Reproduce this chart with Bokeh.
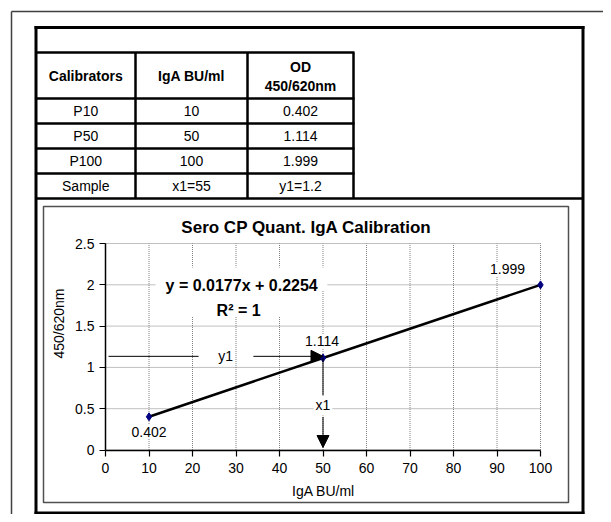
from math import pi
from bokeh.plotting import figure
from bokeh.models import Range1d, FixedTicker, Label, BoxAnnotation, Arrow, NormalHead
from bokeh.embed import file_html
from bokeh.resources import INLINE

# ---------------- data ----------------
calibrators = ["P10", "P50", "P100"]
iga_bu = [10, 50, 100]
od = [0.402, 1.114, 1.999]
sample_row = ["Sample", "x1=55", "y1=1.2"]
header = ["Calibrators", "IgA BU/ml", "OD", "450/620nm"]
slope = 0.0177
intercept = 0.2254
r_squared = 1
x_ticks = [0, 10, 20, 30, 40, 50, 60, 70, 80, 90, 100]
y_ticks = [0, 0.5, 1, 1.5, 2, 2.5]
y_tick_labels = ["0", "0.5", "1", "1.5", "2", "2.5"]
x_lim = (0, 100)
y_lim = (0, 2.5)

# ---------------- layout (canvas px) ----------------
W, H = 603, 514
PL, PR, PT, PB = 105, 540, 243, 449.5   # plot area in canvas px
FONT = "Liberation Sans"

kx = (x_lim[1] - x_lim[0]) / (PR - PL)
ky = (y_lim[1] - y_lim[0]) / (PB - PT)
x_range = Range1d(x_lim[0] - PL * kx, x_lim[0] + (W - PL) * kx)
y_range = Range1d(y_lim[0] - (H - PB) * ky, y_lim[0] + PB * ky)

def sx(px):
    return px

def sy(py):
    return H - py

p = figure(width=W, height=H, x_range=x_range, y_range=y_range,
           output_backend="svg", toolbar_location=None,
           min_border=0, min_border_left=0, min_border_right=0,
           min_border_top=0, min_border_bottom=0)
p.title.visible = False
p.background_fill_color = "white"
p.border_fill_color = "white"
p.outline_line_color = None
p.grid.visible = False
p.xaxis.visible = False
p.yaxis.visible = False

from bokeh.models import LinearAxis
xax = LinearAxis(fixed_location=y_lim[0], bounds=x_lim, ticker=FixedTicker(ticks=x_ticks))
yax = LinearAxis(fixed_location=x_lim[0], bounds=y_lim, ticker=FixedTicker(ticks=y_ticks))
yax.major_label_overrides = {t: l for t, l in zip(y_ticks, y_tick_labels)}
for ax in (xax, yax):
    ax.axis_line_color = "black"
    ax.axis_line_width = 1.5
    ax.major_tick_out = 6
    ax.major_tick_in = 0
    ax.major_tick_line_color = "black"
    ax.major_tick_line_width = 1.2
    ax.minor_tick_line_color = None
    ax.major_label_text_font = FONT
    ax.major_label_text_font_size = "14px"
    ax.major_label_text_color = "black"
yax.major_label_standoff = 5
xax.major_label_standoff = 7
p.add_layout(xax, "below")
p.add_layout(yax, "left")

# gridlines (dotted grey) at the tick positions, limited to the plot area
p.segment(x0=x_ticks, y0=[y_lim[0]] * len(x_ticks), x1=x_ticks, y1=[y_lim[1]] * len(x_ticks),
          line_color="#808080", line_dash="1 1", line_width=1, level="underlay")
p.segment(x0=[x_lim[0]] * len(y_ticks), y0=y_ticks, x1=[x_lim[1]] * len(y_ticks), y1=y_ticks,
          line_color="#808080", line_dash="1 1", line_width=1, level="underlay")

# ---------------- page decoration helpers ----------------
def box(x0, x1, y0, y1, fill="black", line=None, lw=0):
    b = BoxAnnotation(left=sx(x0), right=sx(x1), top=sy(y0), bottom=sy(y1),
                      left_units="screen", right_units="screen",
                      top_units="screen", bottom_units="screen",
                      fill_color=fill if fill else "white", fill_alpha=1 if fill else 0,
                      line_color=line if line else "black", line_alpha=1 if line else 0,
                      line_width=lw, level="overlay")
    p.add_layout(b)

def hline(py, x0, x1, w=2.5, c="black"):
    box(x0, x1, py - w / 2, py + w / 2, fill=c)

def vline(px, y0, y1, w=2.5, c="black"):
    box(px - w / 2, px + w / 2, y0, y1, fill=c)

def txt(px, py, text, size=14, bold=False, angle=0):
    p.add_layout(Label(x=sx(px), y=sy(py), x_units="screen", y_units="screen",
                       text=text, text_align="center", text_baseline="middle",
                       text_font=FONT, text_font_size=f"{size}px",
                       text_font_style="bold" if bold else "normal",
                       text_color="black", angle=angle, level="overlay"))

# outer sheet frame
hline(11, 11, W + 5, 1.5, "#404040")
vline(11, 11, H + 5, 1.5, "#404040")
# thick box
hline(27, 34, 584, 3)
hline(512.5, 34, 584, 3)
vline(35.5, 25.5, 514, 3)
vline(582.5, 25.5, 514, 3)
# table grid
col_edges = [35.5, 135, 247, 353]
row_edges = [52, 98, 123, 148, 173, 198]
for ry in row_edges[:-1]:
    hline(ry, 35, 354)
hline(row_edges[-1], 35, 583)
for cx in col_edges[1:]:
    vline(cx, row_edges[0], row_edges[-1])

col_c = [(col_edges[i] + col_edges[i + 1]) / 2 for i in range(3)]
txt(col_c[0], 75, header[0], 14, True)
txt(col_c[1], 75, header[1], 14, True)
txt(col_c[2], 66, header[2], 14, True)
txt(col_c[2], 85, header[3], 14, True)
rows = [[c, str(x), f"{v:.3f}"] for c, x, v in zip(calibrators, iga_bu, od)] + [sample_row]
for i, r in enumerate(rows):
    cy = (row_edges[i + 1] + row_edges[i + 2]) / 2
    for j, t in enumerate(r):
        txt(col_c[j], cy, t, 14)

# chart box
box(43, 568, 206, 502, fill=None, line="#505050", lw=1.5)
# chart title and axis labels
txt(306, 227, "Sero CP Quant. IgA Calibration", 17, True)
txt(58, 323, "450/620nm", 14, angle=pi / 2)
txt(323, 490, "IgA BU/ml", 14)

# ---------------- chart content ----------------
p.line(iga_bu, od, line_color="black", line_width=2.5)
p.scatter(iga_bu, od, marker="diamond", size=8, fill_color="#000080", line_color="#000080")

xp, yp = iga_bu[1], od[1]
y_arrow = yp + 0.02
p.segment(x0=[0.7], y0=[y_arrow], x1=[21.4], y1=[y_arrow], line_color="black", line_width=1)
p.add_layout(Arrow(end=NormalHead(size=12, fill_color="black", line_color="black"),
                   x_start=34, y_start=y_arrow, x_end=xp, y_end=y_arrow,
                   line_color="black", line_width=1))
p.segment(x0=[xp], y0=[yp], x1=[xp], y1=[0.64], line_color="black", line_width=1)
p.add_layout(Arrow(end=NormalHead(size=12, fill_color="black", line_color="black"),
                   x_start=xp, y_start=0.40, x_end=xp, y_end=0.03,
                   line_color="black", line_width=1))

def dlabel(x, y, text, xo=0, yo=0, size=14, bold=False, bg=True):
    p.add_layout(Label(x=x, y=y, x_offset=xo, y_offset=yo, text=text,
                       text_align="center", text_baseline="middle",
                       text_font=FONT, text_font_size=f"{size}px",
                       text_font_style="bold" if bold else "normal",
                       text_color="black",
                       background_fill_color="white" if bg else None,
                       background_fill_alpha=1 if bg else 0, padding=2))

dlabel(27.6, y_arrow, "y1")
dlabel(xp, 0.54, "x1")
dlabel(iga_bu[0], od[0], f"{od[0]:.3f}", xo=0, yo=-15)
dlabel(iga_bu[1], od[1], f"{od[1]:.3f}", xo=-1, yo=17)
dlabel(iga_bu[2], od[2], f"{od[2]:.3f}", xo=-33, yo=16)

# trendline equation box
p.add_layout(BoxAnnotation(left=11.5, right=51, bottom=1.93, top=2.21,
                           fill_color="white", fill_alpha=1, line_alpha=0))
p.add_layout(BoxAnnotation(left=11.5, right=49, bottom=1.61, top=1.93,
                           fill_color="white", fill_alpha=1, line_alpha=0))
dlabel(31.3, 1.99, f"y = {slope}x + {intercept}", size=16, bold=True, bg=False)
dlabel(30.6, 1.69, f"R\u00b2 = {r_squared}", size=16, bold=True, bg=False)

open("out.html", "w").write(file_html(p, INLINE))
